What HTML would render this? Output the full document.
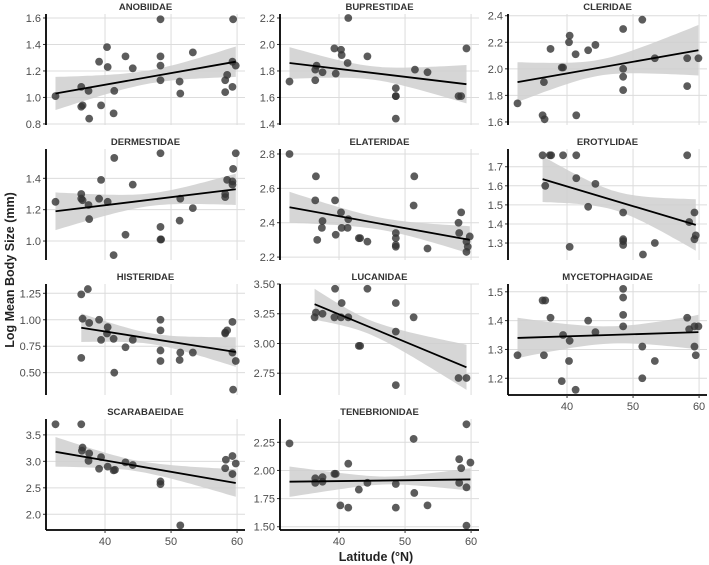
<!DOCTYPE html>
<html><head><meta charset="utf-8"><style>
html,body{margin:0;padding:0;background:#fff;}
svg{display:block;font-family:"Liberation Sans",Arial,sans-serif;}
</style></head><body>
<svg id="chart" width="709" height="565" viewBox="0 0 709 565" xmlns="http://www.w3.org/2000/svg">
<text x="0" y="0" transform="translate(14,270) rotate(-90)" text-anchor="middle" font-size="12.5" font-weight="bold" fill="#222">Log Mean Body Size (mm)</text>
<text x="376" y="561" text-anchor="middle" font-size="12.5" font-weight="bold" fill="#222">Latitude (°N)</text>
</svg>
<script>
const families = ["ANOBIIDAE","BUPRESTIDAE","CLERIDAE","DERMESTIDAE","ELATERIDAE","EROTYLIDAE","HISTERIDAE","LUCANIDAE","MYCETOPHAGIDAE","SCARABAEIDAE","TENEBRIONIDAE"];
const latData = [
 [32.5,36.4,36.4,36.6,37.5,37.6,39.1,39.4,40.3,40.4,41.3,41.4,43.1,44.2,48.4,48.4,48.4,48.4,51.3,51.4,53.3,58.2,58.2,58.5,59.3,59.3,59.4,59.8],
 [32.5,36.4,36.4,36.6,37.5,39.3,39.5,40.3,40.4,41.4,41.3,44.3,48.6,48.6,48.6,48.6,51.5,53.4,58.1,58.5,59.3],
 [32.5,36.3,36.5,36.6,37.5,39.2,39.4,40.4,40.3,41.3,41.4,43.2,44.3,48.5,48.5,48.5,48.5,51.4,53.3,58.2,58.2,59.9],
 [32.5,36.4,36.4,36.6,37.5,37.6,39.1,39.4,40.4,41.4,41.3,43.1,44.2,48.4,48.4,48.4,48.5,51.3,51.4,53.3,58.2,58.2,58.5,59.3,59.3,59.4,59.8],
 [32.5,36.5,36.4,36.7,37.5,37.4,39.4,39.5,40.3,40.4,41.3,41.4,43.0,43.2,44.3,48.6,48.6,48.6,48.6,51.4,51.3,53.4,58.1,58.5,58.2,59.3,59.5,59.3,59.8],
 [36.3,37.4,37.6,39.4,41.4,36.7,41.4,44.3,43.2,40.4,48.5,48.5,48.5,48.5,51.5,53.3,58.2,58.5,59.3,59.5,59.3],
 [36.4,37.4,36.4,36.6,37.6,39.1,39.4,40.4,40.3,41.3,41.4,43.1,44.2,48.4,48.4,48.4,48.4,51.4,51.3,53.3,58.2,58.2,58.5,59.3,59.3,59.4,59.8],
 [36.3,36.5,37.5,39.4,39.3,40.4,40.3,41.4,43.0,44.3,43.2,48.6,48.6,48.6,51.3,58.1,59.3],
 [32.5,36.3,36.7,36.5,37.5,39.2,39.4,40.4,40.3,41.3,43.2,44.3,48.5,48.5,48.5,48.5,51.4,51.4,53.3,58.2,58.5,59.3,59.9,59.3,59.5],
 [32.5,36.4,36.6,36.5,37.6,37.5,39.4,39.1,40.4,41.3,41.5,43.1,44.2,48.4,48.4,51.4,58.2,58.3,59.3,59.3,59.8],
 [32.5,36.4,36.4,37.5,37.5,39.3,39.5,40.2,41.4,41.4,43.0,44.3,48.6,48.6,51.3,51.4,53.4,58.2,58.5,58.2,59.3,59.3,59.3,59.9]
];
const valData = [
 [1.01,1.08,0.93,0.94,1.05,0.84,1.27,0.94,1.38,1.23,0.88,1.05,1.31,1.22,1.59,1.31,1.24,1.13,1.12,1.03,1.34,1.04,1.13,1.17,1.08,1.27,1.59,1.24],
 [1.72,1.73,1.81,1.84,1.79,1.97,1.78,1.96,1.92,2.20,1.86,1.91,1.67,1.61,1.61,1.44,1.81,1.79,1.61,1.61,1.97],
 [1.74,1.65,1.90,1.62,2.15,2.01,2.01,2.25,2.20,2.11,1.65,2.14,2.18,2.30,2.00,1.94,1.84,2.37,2.08,2.08,1.87,2.08],
 [1.25,1.30,1.27,1.26,1.23,1.14,1.27,1.39,1.25,1.53,0.91,1.04,1.36,1.56,1.09,1.01,1.01,1.13,1.27,1.21,1.30,1.28,1.39,1.36,1.38,1.46,1.56],
 [2.80,2.67,2.53,2.30,2.41,2.37,2.53,2.33,2.46,2.37,2.37,2.42,2.31,2.31,2.29,2.34,2.31,2.27,2.26,2.67,2.50,2.25,2.40,2.46,2.34,2.29,2.26,2.23,2.32],
 [1.76,1.76,1.76,1.76,1.76,1.60,1.64,1.61,1.49,1.28,1.46,1.32,1.31,1.29,1.24,1.30,1.76,1.41,1.46,1.34,1.32],
 [1.24,1.29,0.64,1.01,0.97,1.00,0.81,0.93,0.87,0.82,0.50,0.74,0.81,1.00,0.90,0.71,0.61,0.69,0.62,0.69,0.87,0.88,0.90,0.98,0.69,0.34,0.61],
 [3.22,3.26,3.25,3.46,3.22,3.34,3.22,3.22,2.98,3.46,2.98,3.34,3.10,2.65,3.22,2.71,2.71],
 [1.28,1.47,1.47,1.28,1.41,1.19,1.35,1.33,1.26,1.16,1.40,1.36,1.51,1.48,1.42,1.38,1.31,1.20,1.26,1.41,1.37,1.38,1.38,1.31,1.28],
 [3.70,3.70,3.26,3.20,3.15,3.01,3.08,2.86,2.90,2.83,2.84,2.98,2.93,2.62,2.57,1.79,2.87,3.03,3.10,2.76,2.96],
 [2.24,1.93,1.89,1.90,1.94,1.97,1.97,1.69,2.06,1.67,1.83,1.89,1.88,1.67,2.28,1.80,1.69,2.10,2.02,1.89,2.41,1.85,1.51,2.07]
];
const fitStart = [1.03,1.86,1.90,1.19,2.49,1.635,0.925,3.33,1.34,3.18,1.90];
const fitEnd   = [1.27,1.70,2.14,1.33,2.30,1.395,0.695,2.80,1.36,2.59,1.92];
const ciLeft  = [0.125,0.12,0.15,0.12,0.09,0.12,0.135,0.13,0.07,0.28,0.135];
const ciMid   = [0.05,0.05,0.06,0.04,0.035,0.05,0.05,0.06,0.03,0.10,0.035];
const ciRight = [0.115,0.145,0.19,0.10,0.08,0.135,0.14,0.19,0.06,0.26,0.10];
const yTicks = [
 ["0.8","1.0","1.2","1.4","1.6"],["1.4","1.6","1.8","2.0","2.2"],["1.6","1.8","2.0","2.2","2.4"],
 ["1.0","1.2","1.4"],["2.2","2.4","2.6","2.8"],["1.3","1.4","1.5","1.6","1.7"],
 ["0.50","0.75","1.00","1.25"],["2.75","3.00","3.25","3.50"],["1.2","1.3","1.4","1.5"],
 ["2.0","2.5","3.0","3.5"],["1.50","1.75","2.00","2.25"]
];
const yDomTop = [1.630,2.230,2.413,1.587,2.829,1.793,1.338,3.500,1.527,3.800,2.457];
const yDomBot = [0.792,1.392,1.577,0.879,2.183,1.211,0.289,2.567,1.142,1.703,1.471];
const xTicks = ["40","50","60"];
const xDom = [31.06,61.2];

const NS = "http://www.w3.org/2000/svg";
const svg = document.getElementById("chart");
const colX = [46,280,508], rowY = [14,149,284,419], PW = 199, PH = 111;
const bottomAxis = [8,9,10];
function mk(tag, attrs, parent){const e=document.createElementNS(NS,tag);for(const k in attrs)e.setAttribute(k,attrs[k]);(parent||svg).appendChild(e);return e;}

families.forEach((fam,i)=>{
  const x0 = colX[i%3], y0 = rowY[Math.floor(i/3)];
  const sx = v => x0 + (v - xDom[0])/(xDom[1]-xDom[0])*PW;
  const sy = v => y0 + (yDomTop[i]-v)/(yDomTop[i]-yDomBot[i])*PH;
  const g = mk("g",{});
  
  
  const title = mk("text",{x:x0+PW/2,y:y0-4,"text-anchor":"middle","font-size":"9.5","font-weight":"bold",fill:"#333"},g);
  title.textContent = fam;
  
  
  // gridlines
  xTicks.forEach(t=>{
    const gl = mk("line",{x1:sx(+t),x2:sx(+t),y1:y0,y2:y0+PH,stroke:"#dcdcdc","stroke-width":"1"},g);
    
    
  });
  yTicks[i].forEach(t=>{
    const yy = sy(+t);
    const gl = mk("line",{x1:x0,x2:x0+PW,y1:yy,y2:yy,stroke:"#dcdcdc","stroke-width":"1"},g);
    
    
    const tk = mk("line",{x1:x0-3,x2:x0,y1:yy,y2:yy,stroke:"#333","stroke-width":"1"},g);
    
    
    const lb = mk("text",{x:x0-5,y:yy+4,"text-anchor":"end","font-size":"11",fill:"#4d4d4d"},g);
    lb.textContent = t;
    
    
  });
  // ribbon + fit
  const lats = latData[i];
  const xa = Math.min(...lats), xb = Math.max(...lats);
  const xm = lats.reduce((a,b)=>a+b,0)/lats.length;
  const fit = x => fitStart[i] + (fitEnd[i]-fitStart[i])*(x-xa)/(xb-xa);
  const hw = x => {
    const ce = x < xm ? ciLeft[i] : ciRight[i];
    const xe = x < xm ? xa : xb;
    const r = (x-xm)/(xe-xm);
    return Math.sqrt(ciMid[i]*ciMid[i] + (ce*ce-ciMid[i]*ciMid[i])*r*r);
  };
  let up=[], lo=[];
  for(let k=0;k<=40;k++){const x=xa+(xb-xa)*k/40;up.push(sx(x).toFixed(1)+","+sy(fit(x)+hw(x)).toFixed(1));lo.unshift(sx(x).toFixed(1)+","+sy(fit(x)-hw(x)).toFixed(1));}
  const rib = mk("polygon",{points:up.concat(lo).join(" "),fill:"#cfcfcf","fill-opacity":"0.85"},g);
  
  
  // points
  lats.forEach((la,k)=>{
    const c = mk("circle",{cx:sx(la),cy:sy(valData[i][k]),r:"3.9",fill:"#333","fill-opacity":"0.8"},g);
    
    
  });
  const fl = mk("line",{x1:sx(xa),y1:sy(fitStart[i]),x2:sx(xb),y2:sy(fitEnd[i]),stroke:"#000","stroke-width":"1.8"},g);
  
  
  const ax = mk("line",{x1:x0,x2:x0,y1:y0,y2:y0+PH,stroke:"#000","stroke-width":"1.8"},g);
  
  
  if(bottomAxis.includes(i)){
    const bx = mk("line",{x1:x0,x2:x0+PW,y1:y0+PH,y2:y0+PH,stroke:"#000","stroke-width":"1.8"},g);
    
    
    xTicks.forEach(t=>{
      const tk = mk("line",{x1:sx(+t),x2:sx(+t),y1:y0+PH,y2:y0+PH+3,stroke:"#333","stroke-width":"1"},g);
      
      
      const lb = mk("text",{x:sx(+t),y:y0+PH+15,"text-anchor":"middle","font-size":"11",fill:"#4d4d4d"},g);
      lb.textContent = t;
      
      
    });
  }
});
</script>
</body></html>
